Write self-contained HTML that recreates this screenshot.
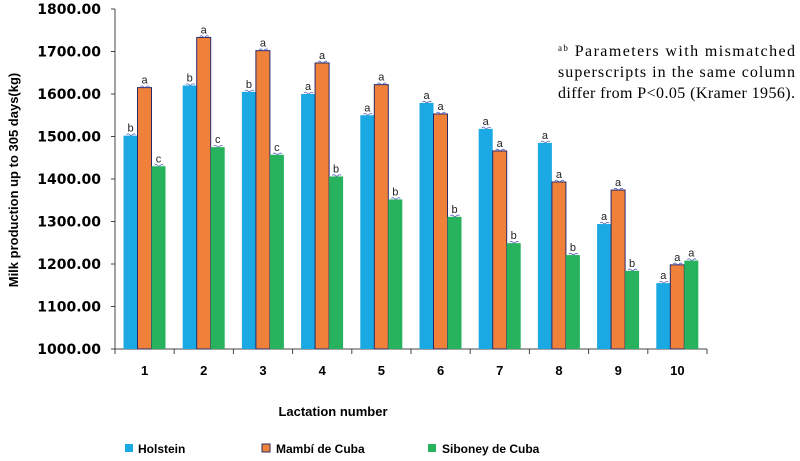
<!DOCTYPE html>
<html><head><meta charset="utf-8"><style>
body{margin:0;background:#fff;}
svg{display:block;font-family:"Liberation Sans",Arial,sans-serif;}
</style></head><body>
<svg id="chart" width="800" height="461" viewBox="0 0 800 461">
<g id="plot"></g>
<text x="18" y="180" transform="rotate(-90 18 180)" text-anchor="middle" font-size="13" font-weight="bold">Milk production up to 305 days(kg)</text>
<text x="333" y="416" text-anchor="middle" font-size="13" font-weight="bold">Lactation number</text>
<g font-family="Liberation Serif,serif" font-size="16">
<text x="558" y="56" textLength="237" lengthAdjust="spacing"><tspan font-size="9" dy="-5">ab</tspan><tspan dy="5"> Parameters with mismatched</tspan></text>
<text x="558" y="77" textLength="237" lengthAdjust="spacing">superscripts in the same column</text>
<text x="558" y="98" textLength="237" lengthAdjust="spacing">differ from P&lt;0.05 (Kramer 1956).</text>
</g>
<g font-size="12" font-weight="bold">
<g><rect x="125" y="444" width="8" height="8" fill="#1aa9e3"/><text x="138" y="453">Holstein</text></g>
<g><rect x="262" y="444" width="8" height="8" fill="#f0813a" stroke="#2a2a6a" stroke-width="1"/><text x="276" y="453">Mambí de Cuba</text></g>
<g><rect x="428" y="444" width="8" height="8" fill="#27b35e"/><text x="442" y="453">Siboney de Cuba</text></g>
</g>
</svg>
<script>
const categories=["1","2","3","4","5","6","7","8","9","10"];
const holstein=[1502,1620,1605,1600,1550,1579,1518,1485,1294,1155];
const mambi=[1615,1733,1702,1673,1622,1553,1466,1393,1374,1198];
const siboney=[1430,1475,1457,1406,1352,1311,1249,1221,1184,1208];
const holsteinLetters=["b","b","b","a","a","a","a","a","a","a"];
const mambiLetters=["a","a","a","a","a","a","a","a","a","a"];
const siboneyLetters=["c","c","c","b","b","b","b","b","b","a"];
const yTicks=[1000,1100,1200,1300,1400,1500,1600,1700,1800];
const yTickLabels=["1000.00","1100.00","1200.00","1300.00","1400.00","1500.00","1600.00","1700.00","1800.00"];

const NS="http://www.w3.org/2000/svg";
const g=document.getElementById('plot');
const x0=115,x1=707,yTop=9,yBot=349,yMin=1000,yMax=1800;
const bw=(x1-x0)/categories.length;
const y=v=>yBot-(v-yMin)/(yMax-yMin)*(yBot-yTop);
const xc=i=>x0+bw*i;
function mk(t,a){const e=document.createElementNS(NS,t);for(const k in a)e.setAttribute(k,a[k]);g.appendChild(e);return e;}
let ax=mk('line',{x1:x0,y1:yTop,x2:x0,y2:yBot,stroke:'#444','stroke-width':1});


let bx=mk('line',{x1:x0,y1:yBot,x2:x1,y2:yBot,stroke:'#444','stroke-width':1});


yTicks.forEach((v,i)=>{
 mk('line',{x1:x0-4,y1:y(v),x2:x0,y2:y(v),stroke:'#444'});
 const t=mk('text',{x:x0-14,y:y(v)+5,'text-anchor':'end','font-size':14,'font-weight':'bold','font-family':'DejaVu Sans,sans-serif'});
 t.textContent=yTickLabels[i];
 
 
});
for(let i=0;i<=categories.length;i++) mk('line',{x1:xc(i),y1:yBot,x2:xc(i),y2:yBot+5,stroke:'#444'});
const series=[[holstein,'#1aa9e3',null,holsteinLetters,'holstein'],[mambi,'#f0813a','#2a2a6a',mambiLetters,'mambi'],[siboney,'#27b35e',null,siboneyLetters,'siboney']];
categories.forEach((c,i)=>{
 const t=mk('text',{x:xc(i)+bw/2,y:375,'text-anchor':'middle','font-size':13,'font-weight':'bold'});
 t.textContent=c;
 
 
 series.forEach((s,j)=>{
  const bx0=xc(i)+8.5+j*14, v=s[0][i];
  const r=mk('rect',{x:bx0,y:y(v),width:14,height:yBot-y(v),fill:s[1]});
  if(s[2]){r.setAttribute('stroke',s[2]);r.setAttribute('stroke-width',1);}
  
  
  const l=mk('text',{x:bx0+7,y:y(v)-4,'text-anchor':'middle','font-size':11,fill:'#222'});
  l.textContent=s[3][i];
  
  
  mk('path',{d:`M${bx0+3} ${y(v)-1} q1.5 -1.5 3 0 t3 0 t3 0`,stroke:'#5560c0',fill:'none','stroke-width':0.8});
 });
});
</script>
</body></html>
